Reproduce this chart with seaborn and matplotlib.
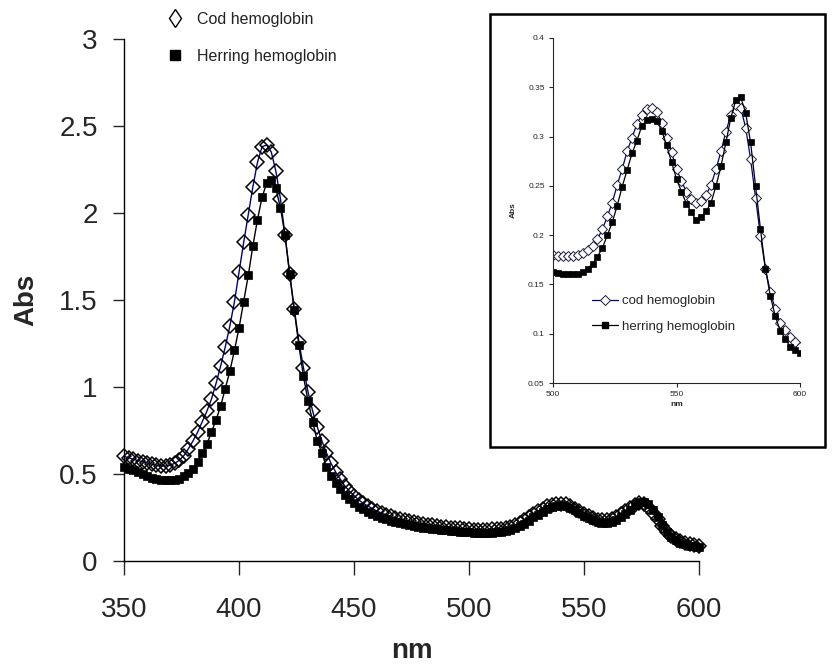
import matplotlib.pyplot as plt
import numpy as np
import pandas as pd
import seaborn as sns
from matplotlib.lines import Line2D
from matplotlib.patches import Rectangle

# Absorption spectra of cod and herring hemoglobin, 350-600 nm every 2 nm
wavelength = list(range(350, 602, 2))

cod_abs = [
    0.600, 0.592, 0.583, 0.576, 0.570, 0.563, 0.556, 0.550, 0.546, 0.545,
    0.550, 0.560, 0.578, 0.605, 0.645, 0.690, 0.740, 0.800, 0.860, 0.930,
    1.020, 1.120, 1.230, 1.350, 1.490, 1.660, 1.830, 1.990, 2.150, 2.290,
    2.380, 2.390, 2.350, 2.240, 2.080, 1.870, 1.650, 1.450, 1.260, 1.110,
    0.970, 0.860, 0.770, 0.690, 0.620, 0.560, 0.510, 0.470, 0.430, 0.400,
    0.375, 0.350, 0.330, 0.315, 0.300, 0.285, 0.275, 0.265, 0.255, 0.248,
    0.240, 0.234, 0.228, 0.222, 0.217, 0.212, 0.208, 0.204, 0.200, 0.197,
    0.194, 0.191, 0.188, 0.186, 0.183,
    0.180, 0.179, 0.179, 0.179, 0.179, 0.180, 0.182, 0.185, 0.189, 0.196,
    0.206, 0.219, 0.233, 0.251, 0.267, 0.285, 0.299, 0.313, 0.322, 0.328,
    0.329, 0.325, 0.314, 0.299, 0.284, 0.267, 0.255, 0.244, 0.237, 0.233,
    0.235, 0.241, 0.251, 0.267, 0.285, 0.305, 0.322, 0.332, 0.329, 0.309,
    0.277, 0.238, 0.199, 0.166, 0.142, 0.125, 0.111, 0.104, 0.097, 0.092,
    0.087,
]

herring_abs = [
    0.540, 0.530, 0.520, 0.510, 0.500, 0.490, 0.478, 0.470, 0.465, 0.462,
    0.462, 0.465, 0.472, 0.485, 0.505, 0.530, 0.570, 0.620, 0.670, 0.740,
    0.810, 0.890, 0.990, 1.090, 1.210, 1.340, 1.490, 1.640, 1.810, 1.960,
    2.090, 2.170, 2.190, 2.140, 2.030, 1.870, 1.650, 1.440, 1.240, 1.060,
    0.920, 0.800, 0.690, 0.620, 0.540, 0.490, 0.450, 0.410, 0.380, 0.355,
    0.330, 0.310, 0.295, 0.280, 0.268, 0.256, 0.246, 0.238, 0.230, 0.222,
    0.216, 0.210, 0.205, 0.200, 0.195, 0.191, 0.187, 0.184, 0.181, 0.178,
    0.175, 0.173, 0.170, 0.168, 0.166,
    0.163, 0.162, 0.161, 0.161, 0.161, 0.161, 0.163, 0.166, 0.171, 0.178,
    0.187, 0.200, 0.213, 0.230, 0.249, 0.266, 0.283, 0.296, 0.311, 0.317,
    0.318, 0.316, 0.306, 0.291, 0.274, 0.257, 0.244, 0.232, 0.223, 0.215,
    0.218, 0.224, 0.233, 0.250, 0.270, 0.294, 0.319, 0.337, 0.340, 0.324,
    0.294, 0.250, 0.206, 0.166, 0.138, 0.118, 0.103, 0.095, 0.087, 0.083,
    0.080,
]

main_xticks = [350, 400, 450, 500, 550, 600]
main_yticks = [0, 0.5, 1, 1.5, 2, 2.5, 3]
main_ylabels = ["0", "0.5", "1", "1.5", "2", "2.5", "3"]
inset_xticks = [500, 550, 600]
inset_yticks = [0.05, 0.1, 0.15, 0.2, 0.25, 0.3, 0.35, 0.4]
inset_ylabels = ["0.05", "0.1", "0.15", "0.2", "0.25", "0.3", "0.35", "0.4"]

df = pd.DataFrame({"nm": wavelength, "cod": cod_abs, "herring": herring_abs})
df_zoom = df[df["nm"] >= 500]

sns.set_style("ticks")
plt.rcParams["font.family"] = ["Liberation Sans", "DejaVu Sans"]

fig = plt.figure(figsize=(8.33, 6.7), dpi=100)

# main spectrum
ax = fig.add_axes([0.149, 0.163, 0.690, 0.779])
sns.lineplot(data=df, x="nm", y="cod", ax=ax, color="#000080", linewidth=1,
             marker="D", markersize=7.6, markerfacecolor="none",
             markeredgecolor="black", markeredgewidth=1.1, clip_on=False)
sns.lineplot(data=df, x="nm", y="herring", ax=ax, color="black", linewidth=1,
             marker="s", markersize=5.5, markerfacecolor="black",
             markeredgecolor="black", markeredgewidth=0.5, clip_on=False)

ax.set_xlim(350, 600)
ax.set_ylim(0, 3)
ax.set_xticks(main_xticks)
ax.set_yticks(main_yticks)
ax.set_yticklabels(main_ylabels)
ax.tick_params(axis="y", direction="out", length=8, width=1, labelsize=20, pad=11)
ax.tick_params(axis="x", direction="out", length=10, width=1, labelsize=20, pad=16)
ax.set_xlabel("nm", fontsize=20, fontweight="bold", labelpad=11)
ax.set_ylabel("Abs", fontsize=20, fontweight="bold", labelpad=14)
sns.despine(ax=ax)
for s in ["left", "bottom"]:
    ax.spines[s].set_linewidth(1)
    ax.spines[s].set_color("black")

main_handles = [
    Line2D([], [], linestyle="none", marker="d", markersize=9.5,
           markerfacecolor="white", markeredgecolor="black", markeredgewidth=1),
    Line2D([], [], linestyle="none", marker="s", markersize=7,
           markerfacecolor="black", markeredgecolor="black"),
]
fig.legend(main_handles, ["Cod hemoglobin", "Herring hemoglobin"],
           loc="upper left", bbox_to_anchor=(167 / 833, 1 - 12 / 670),
           frameon=False, fontsize=11.5, handlelength=1.0, handletextpad=0.9,
           labelspacing=1.35, borderpad=0, borderaxespad=0, labelcolor="#222222")

# inset box and zoomed spectrum
fig.add_artist(Rectangle((490 / 833, 1 - 447 / 670), 335 / 833, 433 / 670,
                         transform=fig.transFigure, fill=False,
                         edgecolor="black", linewidth=1.8))

axin = fig.add_axes([553 / 833, 1 - 383 / 670, 247 / 833, 345 / 670])
sns.lineplot(data=df_zoom, x="nm", y="cod", ax=axin, color="#000080", linewidth=0.9,
             marker="D", markersize=4.8, markerfacecolor="white",
             markeredgecolor="#1a1a40", markeredgewidth=0.7)
sns.lineplot(data=df_zoom, x="nm", y="herring", ax=axin, color="black", linewidth=0.9,
             marker="s", markersize=4.2, markerfacecolor="black",
             markeredgecolor="black", markeredgewidth=0.5)
axin.set_xlim(500, 600)
axin.set_ylim(0.05, 0.4)
axin.set_xticks(inset_xticks)
axin.set_yticks(inset_yticks)
axin.set_yticklabels(inset_ylabels)
axin.tick_params(direction="out", length=3, width=0.8, labelsize=6, pad=3)
axin.set_xlabel("nm", fontsize=6, fontweight="bold", labelpad=2)
axin.set_ylabel("Abs", fontsize=6, fontweight="bold", labelpad=8)
sns.despine(ax=axin)
axin.patch.set_alpha(0)

inset_handles = [
    Line2D([], [], color="#000080", linewidth=0.9, marker="D", markersize=4.8,
           markerfacecolor="white", markeredgecolor="#1a1a40", markeredgewidth=0.7),
    Line2D([], [], color="black", linewidth=0.9, marker="s", markersize=4.2,
           markerfacecolor="black", markeredgecolor="black"),
]
axin.legend(inset_handles, ["cod hemoglobin", "herring hemoglobin"],
            loc="upper left", bbox_to_anchor=(592 / 833, 1 - 295 / 670),
            bbox_transform=fig.transFigure, frameon=False, fontsize=9.5,
            handlelength=2.0, handletextpad=0.25, labelspacing=1.0,
            borderpad=0, borderaxespad=0)

fig.savefig("out.png", dpi=100)
